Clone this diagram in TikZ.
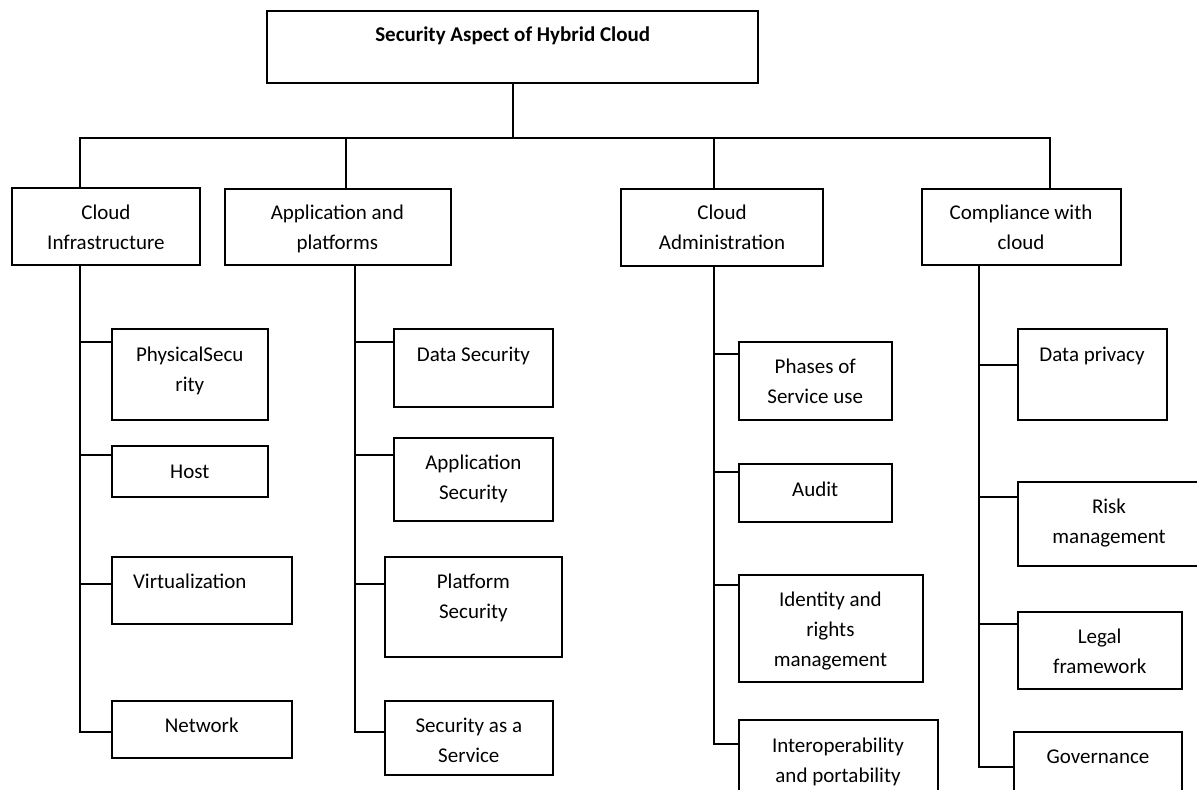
\documentclass[tikz,border=0pt]{standalone}
\usepackage{fontspec}
\setmainfont{Carlito}
\tikzset{
  box/.style={draw, line width=1pt, rectangle, inner sep=0pt, outer sep=0pt, anchor=north west},
  conn/.style={draw, line width=1pt},
  txt/.style={inner sep=0pt, outer sep=0pt, anchor=north, align=center, font=\fontsize{10.5}{15}\selectfont},
}
\newcommand\mybox[5]{\node[box, minimum width={(#4-#2)*0.5pt}, minimum height={(#5-#3)*0.5pt}] (#1) at (#2,#3) {};}
\begin{document}
\begin{tikzpicture}[x=0.5pt,y=-0.5pt]
\useasboundingbox[fill=white] (0,0) rectangle (1197,790);
% boxes
\mybox{top}{267}{11}{758.3}{83}
\mybox{ci}{11.9}{188}{199.8}{265}
\mybox{app}{224.6}{189}{450.8}{265}
\mybox{ca}{620.9}{189}{823.1}{265.7}
\mybox{comp}{921.7}{189}{1120.8}{265}
\mybox{ps}{111.7}{329.3}{267.9}{420}
\mybox{host}{111.7}{446}{267.9}{497}
\mybox{virt}{111.7}{557}{292}{624.3}
\mybox{net}{111.7}{701.3}{292}{758.3}
\mybox{ds}{393.8}{329.3}{553.4}{406.7}
\mybox{as}{393.8}{438.3}{553.4}{521.3}
\mybox{pls}{385.4}{557}{561.8}{657}
\mybox{saas}{385.4}{701.3}{553.4}{775}
\mybox{ph}{738.6}{342}{892}{420}
\mybox{aud}{738.6}{464.3}{892}{521.7}
\mybox{idr}{738.6}{575.3}{922.5}{681.7}
\mybox{iop}{738.6}{720}{937.7}{800}
\mybox{dp}{1017.7}{329.3}{1166.5}{420}
\mybox{risk}{1017.7}{481.7}{1205}{566}
\mybox{leg}{1017.7}{612}{1181.8}{688.7}
\mybox{gov}{1014.2}{732}{1181.8}{800}
% texts
\node[txt, font=\fontsize{10.5}{15}\selectfont\bfseries] (ttop) at (512.7,20.7) {\strut Security Aspect of Hybrid Cloud};
\node[txt] (tci) at (105.9,199) {\strut Cloud\\Infrastructure};
\node[txt] (tapp) at (337.3,199) {\strut Application and\\platforms};
\node[txt] (tca) at (722,199) {\strut Cloud\\Administration};
\node[txt] (tcomp) at (1021,199) {\strut Compliance with\\cloud};
\node[txt] (tps) at (189.8,341) {\strut PhysicalSecu\\rity};
\node[txt] (thost) at (189.8,457) {\strut Host};
\node[txt] (tvirt) at (189.8,567.7) {\strut Virtualization};
\node[txt] (tnet) at (201.7,711.7) {\strut Network};
\node[txt] (tds) at (473.4,340.3) {\strut Data Security};
\node[txt] (tas) at (473.4,448.7) {\strut Application\\Security};
\node[txt] (tpls) at (473.4,567.7) {\strut Platform\\Security};
\node[txt] (tsaas) at (468.8,711.7) {\strut Security as a\\Service};
\node[txt] (tph) at (815.2,352) {\strut Phases of\\Service use};
\node[txt] (taud) at (815.2,475.7) {\strut Audit};
\node[txt] (tidr) at (830.4,585.3) {\strut Identity and\\rights\\management};
\node[txt] (tiop) at (838,731) {\strut Interoperability\\and portability};
\node[txt] (tdp) at (1092,340.3) {\strut Data privacy};
\node[txt] (trisk) at (1109,492.7) {\strut Risk\\management};
\node[txt] (tleg) at (1099.7,622.7) {\strut Legal\\framework};
\node[txt] (tgov) at (1098,742.7) {\strut Governance};
% top-level connectors
\coordinate (busL) at (79.6,138.5);
\coordinate (busR) at (1050.4,138.5);
\coordinate (dApp) at (346.3,138.5);
\coordinate (dCA) at (713.5,138.5);
\draw[conn] (top.south) -- (top.south |- busL);
\draw[conn] (busL |- ci.north) -- (busL) -- (busR) -- (busR |- comp.north);
\draw[conn] (dApp) -- (dApp |- app.north);
\draw[conn] (dCA) -- (dCA |- ca.north);
% Cloud Infrastructure branch
\coordinate (ciS) at (79.6,0);
\draw[conn] (ciS |- ci.south) |- (net.west |- 0,732.3);
\draw[conn] (ciS |- 0,341.7) -- (ps.west |- 0,341.7);
\draw[conn] (ciS |- 0,455) -- (host.west |- 0,455);
\draw[conn] (ciS |- 0,584.3) -- (virt.west |- 0,584.3);
% Application branch
\coordinate (apS) at (354.8,0);
\draw[conn] (apS |- app.south) |- (saas.west |- 0,732);
\draw[conn] (apS |- 0,341.7) -- (ds.west |- 0,341.7);
\draw[conn] (apS |- 0,455.3) -- (as.west |- 0,455.3);
\draw[conn] (apS |- 0,584.3) -- (pls.west |- 0,584.3);
% Cloud Administration branch
\coordinate (caS) at (713.5,0);
\draw[conn] (caS |- ca.south) |- (iop.west |- 0,744.3);
\draw[conn] (caS |- 0,353.7) -- (ph.west |- 0,353.7);
\draw[conn] (caS |- 0,472.3) -- (aud.west |- 0,472.3);
\draw[conn] (caS |- 0,584.7) -- (idr.west |- 0,584.7);
% Compliance branch
\coordinate (cpS) at (978.5,0);
\draw[conn] (cpS |- comp.south) |- (gov.west |- 0,766.7);
\draw[conn] (cpS |- 0,365) -- (dp.west |- 0,365);
\draw[conn] (cpS |- 0,496.7) -- (risk.west |- 0,496.7);
\draw[conn] (cpS |- 0,624) -- (leg.west |- 0,624);
\end{tikzpicture}
\end{document}
